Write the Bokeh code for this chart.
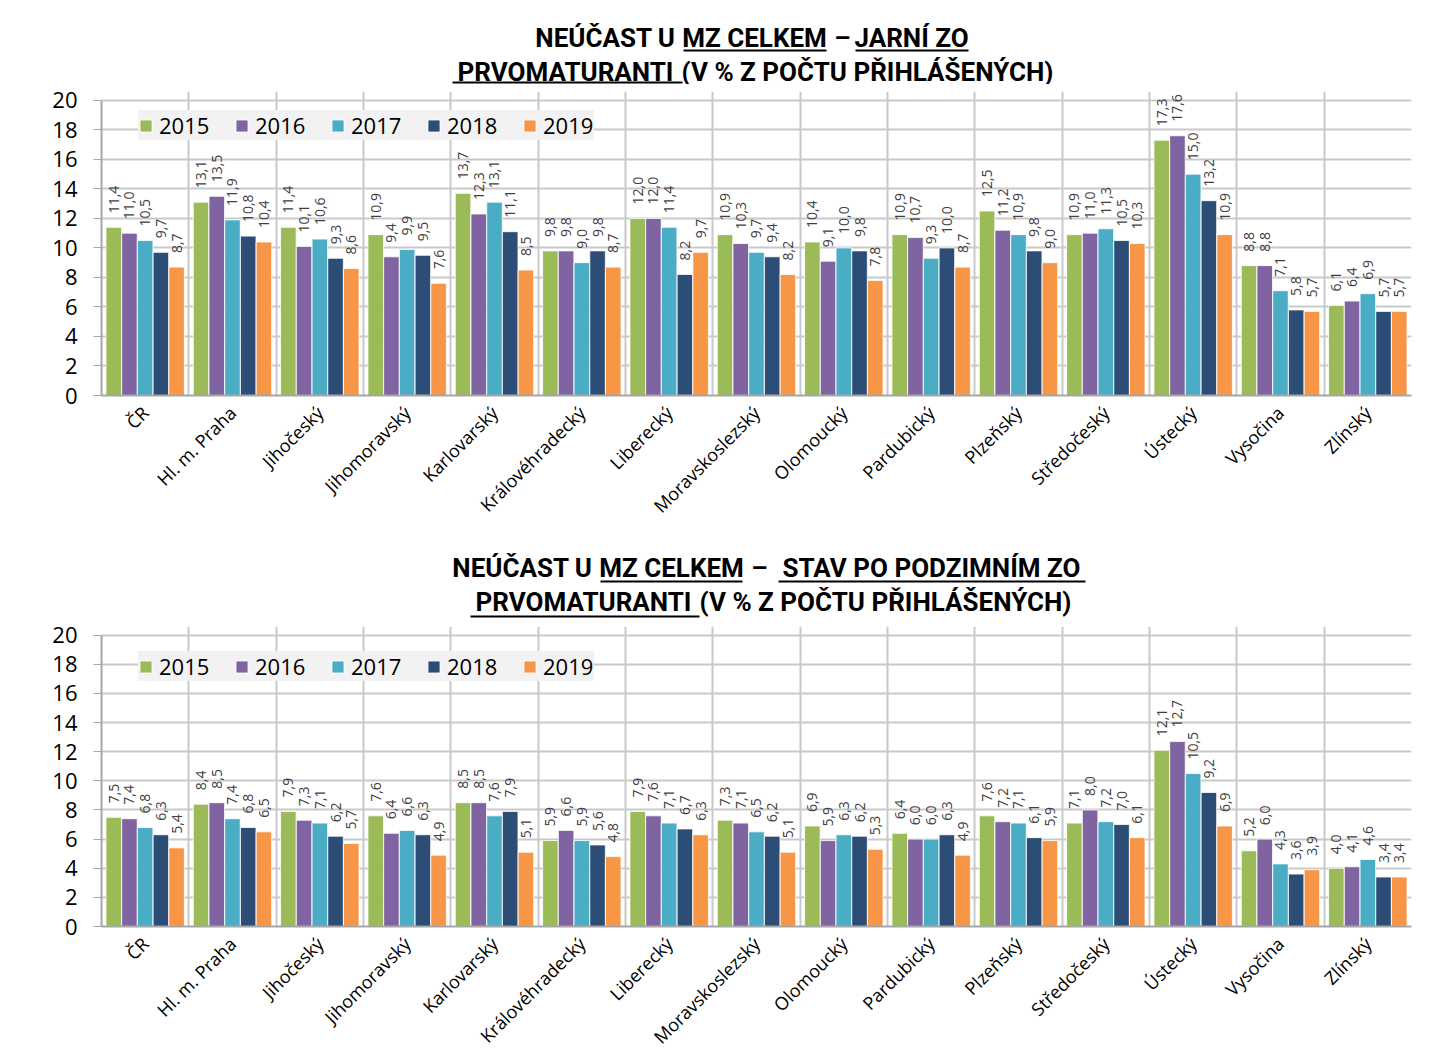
import numpy as np
from bokeh.plotting import figure
from bokeh.models import (ColumnDataSource, FactorRange, Range1d, LabelSet, Legend, LegendItem,
                          FixedTicker)
from bokeh.transform import dodge
from bokeh.layouts import column
from bokeh.embed import file_html
from bokeh.resources import INLINE
from bokeh.core.properties import value

# ---------------- data ----------------
regions = ["ČR", "Hl. m. Praha", "Jihočeský", "Jihomoravský", "Karlovarský", "Královéhradecký",
           "Liberecký", "Moravskoslezský", "Olomoucký", "Pardubický", "Plzeňský", "Středočeský",
           "Ústecký", "Vysočina", "Zlínský"]
years = ["2015", "2016", "2017", "2018", "2019"]
colors = ["#9BBB59", "#8064A2", "#4BACC6", "#2C4D75", "#F79646"]

# spring term (jarní ZO)
jarni_2015 = [11.4, 13.1, 11.4, 10.9, 13.7, 9.8, 12.0, 10.9, 10.4, 10.9, 12.5, 10.9, 17.3, 8.8, 6.1]
jarni_2016 = [11.0, 13.5, 10.1, 9.4, 12.3, 9.8, 12.0, 10.3, 9.1, 10.7, 11.2, 11.0, 17.6, 8.8, 6.4]
jarni_2017 = [10.5, 11.9, 10.6, 9.9, 13.1, 9.0, 11.4, 9.7, 10.0, 9.3, 10.9, 11.3, 15.0, 7.1, 6.9]
jarni_2018 = [9.7, 10.8, 9.3, 9.5, 11.1, 9.8, 8.2, 9.4, 9.8, 10.0, 9.8, 10.5, 13.2, 5.8, 5.7]
jarni_2019 = [8.7, 10.4, 8.6, 7.6, 8.5, 8.7, 9.7, 8.2, 7.8, 8.7, 9.0, 10.3, 10.9, 5.7, 5.7]

# after autumn term (stav po podzimním ZO)
podzim_2015 = [7.5, 8.4, 7.9, 7.6, 8.5, 5.9, 7.9, 7.3, 6.9, 6.4, 7.6, 7.1, 12.1, 5.2, 4.0]
podzim_2016 = [7.4, 8.5, 7.3, 6.4, 8.5, 6.6, 7.6, 7.1, 5.9, 6.0, 7.2, 8.0, 12.7, 6.0, 4.1]
podzim_2017 = [6.8, 7.4, 7.1, 6.6, 7.6, 5.9, 7.1, 6.5, 6.3, 6.0, 7.1, 7.2, 10.5, 4.3, 4.6]
podzim_2018 = [6.3, 6.8, 6.2, 6.3, 7.9, 5.6, 6.7, 6.2, 6.2, 6.3, 6.1, 7.0, 9.2, 3.6, 3.4]
podzim_2019 = [5.4, 6.5, 5.7, 4.9, 5.1, 4.8, 6.3, 5.1, 5.3, 4.9, 5.9, 6.1, 6.9, 3.9, 3.4]

y_ticks = [0, 2, 4, 6, 8, 10, 12, 14, 16, 18, 20]
y_max = 20

# ---------------- layout / style ----------------
W = 1436
BL, BR = 101, 25          # left / right border of every figure's frame
FONT_NAME = "Open Sans"
FONT = value(FONT_NAME)
TITLE_FONT = value("Roboto")
GRID = "#c9c9c9"
offsets = [-0.36, -0.18, 0.0, 0.18, 0.36]
HEADROOM = 0.6            # room above the top gridline so value labels are not clipped


def make_chart(series, height, top, bottom, legend_y):
    data = {"region": regions}
    for yr, vals in zip(years, series):
        data["v" + yr] = vals
        data["l" + yr] = [f"{v:.1f}".replace(".", ",") for v in vals]
    source = ColumnDataSource(data)

    p = figure(x_range=FactorRange(*regions), y_range=Range1d(0, y_max + HEADROOM),
               width=W, height=height, output_backend="svg", toolbar_location=None,
               min_border_left=BL, min_border_right=BR, min_border_top=top,
               min_border_bottom=bottom)
    p.outline_line_color = None

    renderers = []
    for yr, c, off in zip(years, colors, offsets):
        r = p.vbar(x=dodge("region", off, range=p.x_range), top="v" + yr, width=0.178,
                   source=source, fill_color=c, line_color="white", line_width=0.8)
        renderers.append(r)
        p.add_layout(LabelSet(x=dodge("region", off, range=p.x_range), y="v" + yr,
                              text="l" + yr, source=source, angle=np.pi / 2,
                              text_align="left", text_baseline="middle", y_offset=14,
                              text_font=FONT, text_font_size="14px", text_color="#404040"))

    # axes
    p.yaxis.ticker = FixedTicker(ticks=y_ticks)
    p.yaxis.bounds = (0, y_max)
    p.yaxis.major_label_text_font = FONT_NAME
    p.yaxis.major_label_text_font_size = "22px"
    p.yaxis.major_label_text_color = "#000000"
    p.yaxis.axis_line_color = "#a6a6a6"
    p.yaxis.axis_line_width = 2
    p.yaxis.major_tick_line_color = "#a6a6a6"
    p.yaxis.major_tick_out = 8
    p.yaxis.major_tick_in = 0
    p.yaxis.minor_tick_line_color = None
    p.yaxis.major_label_standoff = 16

    p.xaxis.major_label_orientation = np.pi / 4
    p.xaxis.major_label_text_font = FONT_NAME
    p.xaxis.major_label_text_font_size = "18px"
    p.xaxis.major_label_text_color = "#000000"
    p.xaxis.axis_line_color = "#a6a6a6"
    p.xaxis.axis_line_width = 2
    p.xaxis.major_tick_line_color = None
    p.xaxis.major_label_standoff = 8

    p.ygrid.ticker = FixedTicker(ticks=y_ticks)
    p.ygrid.grid_line_color = GRID
    p.ygrid.grid_line_width = 2
    p.xgrid.ticker = FixedTicker(ticks=list(range(len(regions) + 1)))
    p.xgrid.bounds = (0, y_max)
    p.xgrid.grid_line_color = GRID
    p.xgrid.grid_line_width = 2

    legend = Legend(items=[LegendItem(label=yr, renderers=[r]) for yr, r in zip(years, renderers)],
                    orientation="horizontal", location=(37, legend_y),
                    background_fill_color="#f2f2f2", background_fill_alpha=1.0,
                    border_line_color=None, padding=9, margin=0, spacing=24,
                    glyph_width=15, glyph_height=15, label_standoff=6, label_width=51,
                    label_text_font=FONT_NAME, label_text_font_size="22px",
                    label_text_color="#000000")
    p.add_layout(legend)
    return p


def make_title(height, pieces, lines):
    # frame covers page x BL..(W-BR); x data == page x, y data == local y from the top
    t = figure(width=W, height=height, x_range=Range1d(BL, W - BR),
               y_range=Range1d(height, 0), title=None,
               output_backend="svg", toolbar_location=None,
               min_border_left=BL, min_border_right=BR, min_border_top=0, min_border_bottom=0,
               x_axis_type=None, y_axis_type=None)
    t.outline_line_color = None
    t.grid.visible = False
    for (x, y, txt) in pieces:
        t.text(x=[x], y=[y], text=[txt], text_align="center", text_baseline="middle",
               text_font=TITLE_FONT, text_font_style="bold", text_font_size="26px",
               text_color="#000000")
    for (x0, x1, y) in lines:
        t.segment(x0=[x0], y0=[y], x1=[x1], y1=[y], line_color="#000000", line_width=2)
    return t


# top panel: title figure covers page y 0..84
title1 = make_title(84,
                    [(605, 37, "NEÚČAST U"), (754, 37, "MZ CELKEM"),
                     (842, 37, "–"), (911, 37, "JARNÍ ZO"),
                     (565, 71, "PRVOMATURANTI"),
                     (867, 71, "(V % Z POČTU PŘIHLÁŠENÝCH)")],
                    [(683, 826, 50), (855, 968, 50), (452, 682, 82)])
chart1 = make_chart([jarni_2015, jarni_2016, jarni_2017, jarni_2018, jarni_2019],
                    455, 7, 144, 255)

# bottom panel: title figure covers page y 539..619
title2 = make_title(80,
                    [(522, 28, "NEÚČAST U"), (671, 28, "MZ CELKEM"),
                     (759, 28, "–"), (931, 28, "STAV PO PODZIMNÍM ZO"),
                     (583, 62, "PRVOMATURANTI"),
                     (885, 62, "(V % Z POČTU PŘIHLÁŠENÝCH)")],
                    [(600, 742, 42), (778, 1085, 42), (470, 699, 77)])
chart2 = make_chart([podzim_2015, podzim_2016, podzim_2017, podzim_2018, podzim_2019],
                    444, 7, 137, 245)

layout = column(title1, chart1, title2, chart2, spacing=0)
open("out.html", "w").write(file_html(layout, INLINE))
